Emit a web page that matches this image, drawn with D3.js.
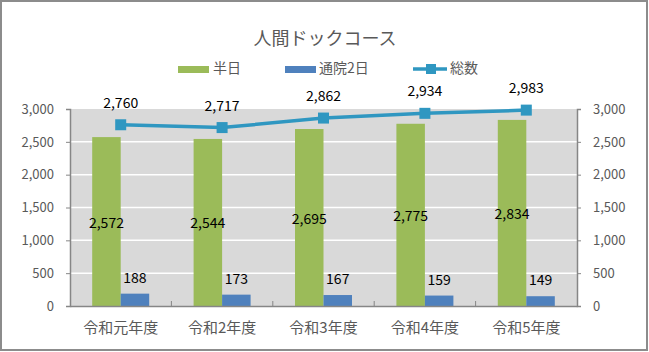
<!DOCTYPE html>
<html>
<head>
<meta charset="utf-8">
<script src="https://cdn.jsdelivr.net/npm/d3@7"></script>
<style>
  body { margin: 0; background: #fff; }
  text { font-family: "Noto Sans CJK JP", "Noto Sans", sans-serif; }
</style>
</head>
<body>
<div id="chart"></div>
<script>
const years = ["令和元年度", "令和2年度", "令和3年度", "令和4年度", "令和5年度"];
const halfDay = [2572, 2544, 2695, 2775, 2834];
const twoDay = [188, 173, 167, 159, 149];
const total = [2760, 2717, 2862, 2934, 2983];
const yTicks = [0, 500, 1000, 1500, 2000, 2500, 3000];

const W = 649, H = 352;
const margin = { top: 109, right: 72, bottom: 46, left: 70 },
      width = W - margin.left - margin.right,
      height = H - margin.top - margin.bottom;

const root = d3.select("#chart").append("svg")
    .attr("width", W)
    .attr("height", H);

// outer border
root.append("rect")
    .attr("x", 1).attr("y", 1)
    .attr("width", W - 3).attr("height", H - 3)
    .attr("fill", "#fff")
    .attr("stroke", "#8c8c8c")
    .attr("stroke-width", 2);

// title
root.append("text")
    .attr("x", 325).attr("y", 45)
    .attr("text-anchor", "middle")
    .style("font-size", "18px")
    .attr("fill", "#595959")
    .text("人間ドックコース");

// legend
const leg = root.append("g").attr("transform", "translate(0,69)");
leg.append("rect").attr("x", 178).attr("y", -3).attr("width", 31).attr("height", 7).attr("fill", "#9bbb59");
leg.append("text").attr("x", 213).attr("y", 4).style("font-size", "14px").attr("fill", "#595959").text("半日");
leg.append("rect").attr("x", 285).attr("y", -3).attr("width", 31).attr("height", 7).attr("fill", "#4f81bd");
leg.append("text").attr("x", 319).attr("y", 4).style("font-size", "14px").attr("fill", "#595959").text("通院2日");
leg.append("line").attr("x1", 413).attr("x2", 447).attr("y1", 0).attr("y2", 0)
    .attr("stroke", "#2f97c1").attr("stroke-width", 3.5);
leg.append("rect").attr("x", 426).attr("y", -5).attr("width", 10).attr("height", 10).attr("fill", "#2f97c1");
leg.append("text").attr("x", 450).attr("y", 4).style("font-size", "14px").attr("fill", "#595959").text("総数");

const svg = root.append("g")
    .attr("transform", `translate(${margin.left},${margin.top})`);

const x = d3.scaleBand().domain(years).range([0, width]);
const y = d3.scaleLinear().domain([0, 3000]).range([height, 0]);
const barW = 28.5;

// plot background
svg.append("rect")
    .attr("width", width).attr("height", height)
    .attr("fill", "#d9d9d9");

// gridlines
svg.selectAll(".grid")
    .data(yTicks.slice(1, -1))
    .enter().append("line")
    .attr("x1", 0).attr("x2", width)
    .attr("y1", d => y(d)).attr("y2", d => y(d))
    .attr("stroke", "#fff").attr("stroke-width", 1.5);

// bars
svg.selectAll(".half")
    .data(halfDay)
    .enter().append("rect")
    .attr("x", (d, i) => x(years[i]) + x.bandwidth() / 2 - barW)
    .attr("y", d => y(d))
    .attr("width", barW)
    .attr("height", d => height - y(d))
    .attr("fill", "#9bbb59");

svg.selectAll(".two")
    .data(twoDay)
    .enter().append("rect")
    .attr("x", (d, i) => x(years[i]) + x.bandwidth() / 2)
    .attr("y", d => y(d))
    .attr("width", barW)
    .attr("height", d => height - y(d))
    .attr("fill", "#4f81bd");

// axes
const fmt = d3.format(",");
const axL = svg.append("g")
    .call(d3.axisLeft(y).tickValues(yTicks).tickFormat(fmt).tickSize(4).tickPadding(12));
const axR = svg.append("g")
    .attr("transform", `translate(${width},0)`)
    .call(d3.axisRight(y).tickValues(yTicks).tickFormat(fmt).tickSize(4).tickPadding(12));
[axL, axR].forEach(a => {
    a.select(".domain").attr("stroke", "#868686").attr("stroke-width", 1.5);
    a.selectAll(".tick line").attr("stroke", "#868686");
    a.selectAll("text").attr("fill", "#595959").style("font-size", "13px")
        .style("font-family", "'Noto Sans CJK JP', sans-serif");
});

const axB = svg.append("g")
    .attr("transform", `translate(0,${height})`)
    .call(d3.axisBottom(x).tickSize(0).tickPadding(16));
axB.select(".domain").attr("stroke", "#868686").attr("stroke-width", 1.5);
axB.selectAll("text").attr("fill", "#595959").style("font-size", "15px")
    .style("font-family", "'Noto Sans CJK JP', sans-serif");
// category boundary ticks
svg.selectAll(".btick")
    .data(years.slice(1))
    .enter().append("line")
    .attr("x1", d => x(d)).attr("x2", d => x(d))
    .attr("y1", height).attr("y2", height - 5)
    .attr("stroke", "#868686");

// total line
const cx = d => x(d) + x.bandwidth() / 2;
const line = d3.line().x((d, i) => cx(years[i])).y(d => y(d));
svg.append("path")
    .datum(total)
    .attr("d", line)
    .attr("fill", "none")
    .attr("stroke", "#2f97c1")
    .attr("stroke-width", 3.5);
svg.selectAll(".mk")
    .data(total)
    .enter().append("rect")
    .attr("x", (d, i) => cx(years[i]) - 5.5)
    .attr("y", d => y(d) - 5.5)
    .attr("width", 11).attr("height", 11)
    .attr("fill", "#2f97c1");

// data labels
svg.selectAll(".tl")
    .data(total)
    .enter().append("text")
    .attr("x", (d, i) => cx(years[i]))
    .attr("y", d => y(d) - 17)
    .attr("text-anchor", "middle")
    .style("font-size", "14px")
    .text(d => fmt(d));

svg.selectAll(".hl")
    .data(halfDay)
    .enter().append("text")
    .attr("x", (d, i) => cx(years[i]) - barW / 2)
    .attr("y", d => (y(d) + height) / 2 + 6)
    .attr("text-anchor", "middle")
    .style("font-size", "14px")
    .text(d => fmt(d));

svg.selectAll(".bl")
    .data(twoDay)
    .enter().append("text")
    .attr("x", (d, i) => cx(years[i]) + barW / 2)
    .attr("y", d => y(d) - 11)
    .attr("text-anchor", "middle")
    .style("font-size", "14px")
    .text(d => fmt(d));
</script>
</body>
</html>
